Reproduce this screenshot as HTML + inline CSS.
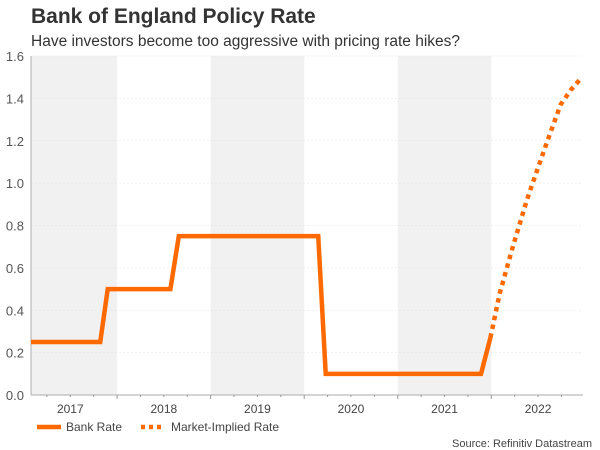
<!DOCTYPE html>
<html><head><meta charset="utf-8"><style>
body{margin:0;background:#fff;font-family:"Liberation Sans",sans-serif}
#wrap{position:relative;width:600px;height:450px;overflow:hidden}
</style></head><body>
<div id="wrap">
<div style="position:absolute;left:31px;top:5px;font-size:21px;font-weight:bold;color:#333">Bank of England Policy Rate</div>
<div style="position:absolute;left:31px;top:33px;font-size:15.5px;color:#333">Have investors become too aggressive with pricing rate hikes?</div>
<svg id="svg" width="600" height="450" style="position:absolute;left:0;top:0"></svg>
</div>
<script>
const yTicks=[0,0.2,0.4,0.6,0.8,1.0,1.2,1.4,1.6];
const years=[2017,2018,2019,2020,2021,2022];
const shadedYears=[2017,2019,2021];
const bankX=[2017.08,2017.82,2017.9,2018.57,2018.66,2020.15,2020.23,2021.89,2021.99];
const bankY=[0.25,0.25,0.5,0.5,0.75,0.75,0.1,0.1,0.27];
const mktX=[2021.99,2022.09,2022.23,2022.38,2022.45,2022.60,2022.74,2022.85,2022.97];
const mktY=[0.27,0.48,0.70,0.92,1.01,1.20,1.37,1.44,1.50];
const NS="http://www.w3.org/2000/svg",svg=document.getElementById('svg');
const X0=31,X1=583,Y0=395,Y1=56,xmin=2017.08,xmax=2022.98;
const x=v=>X0+(v-xmin)/(xmax-xmin)*(X1-X0);
const y=v=>Y0-(v/1.6)*(Y0-Y1);
function mk(t,a){const e=document.createElementNS(NS,t);for(const k in a)e.setAttribute(k,a[k]);svg.appendChild(e);return e;}
shadedYears.forEach(yr=>{const a=Math.max(x(yr),X0),b=Math.min(x(yr+1),X1);
const r=mk('rect',{x:a,y:Y1,width:b-a,height:Y0-Y1,fill:'#f1f1f1'});

});
yTicks.forEach(t=>{if(t>0){const g=mk('line',{x1:X0,x2:X1,y1:y(t),y2:y(t),stroke:'#e4e4e4','stroke-dasharray':'2,2','stroke-width':0.6});

}
const l=mk('text',{x:24,y:y(t)+5,'text-anchor':'end','font-size':13,fill:'#555','font-family':'Liberation Sans,sans-serif'});l.textContent=t.toFixed(1);

});
const ax=mk('line',{x1:X0,x2:X0,y1:Y1,y2:Y0,stroke:'#bbb','stroke-width':1.2});


const bx=mk('line',{x1:X0,x2:X1,y1:Y0,y2:Y0,stroke:'#bbb','stroke-width':1.2});


years.forEach(yr=>{for(let m=0;m<12;m+=3){const px=x(yr+m/12);if(px<X0||px>X1)continue;
mk('line',{x1:px,x2:px,y1:Y0,y2:Y0+(m?2:4),stroke:'#999'});}
const l=mk('text',{x:x(yr+0.5),y:413,'text-anchor':'middle','font-size':12,fill:'#444','font-family':'Liberation Sans,sans-serif'});l.textContent=yr;

});
const bp=mk('polyline',{points:bankX.map((v,i)=>x(v)+','+y(bankY[i])).join(' '),fill:'none',stroke:'#ff6a00','stroke-width':4.5,'stroke-linejoin':'miter'});


const mp=mk('polyline',{points:mktX.map((v,i)=>x(v)+','+y(mktY[i])).join(' '),fill:'none',stroke:'#ff6a00','stroke-width':4.5,'stroke-dasharray':'4.5,4.5'});


const l1=mk('line',{x1:37,x2:61,y1:427,y2:427,stroke:'#ff6a00','stroke-width':4.5});


const t1=mk('text',{x:66,y:431,'font-size':12,fill:'#444','font-family':'Liberation Sans,sans-serif'});t1.textContent='Bank Rate';


const l2=mk('line',{x1:141,x2:163,y1:427,y2:427,stroke:'#ff6a00','stroke-width':4.5,'stroke-dasharray':'4,4'});


const t2=mk('text',{x:171,y:431,'font-size':12,fill:'#444','font-family':'Liberation Sans,sans-serif'});t2.textContent='Market-Implied Rate';


const s=mk('text',{x:592,y:447,'text-anchor':'end','font-size':11,fill:'#444','font-family':'Liberation Sans,sans-serif'});s.textContent='Source: Refinitiv Datastream';


</script>
</body></html>
